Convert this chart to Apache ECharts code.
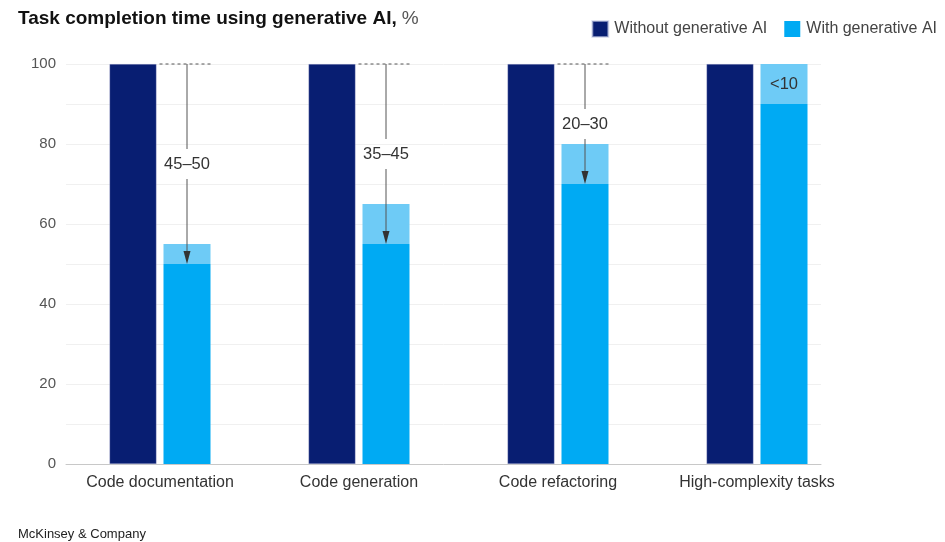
<!DOCTYPE html>
<html>
<head>
<meta charset="utf-8">
<title>Task completion time using generative AI</title>
<script src="https://cdn.jsdelivr.net/npm/echarts@6/dist/echarts.min.js"></script>
<style>
  html, body { margin: 0; padding: 0; background: #fff; }
  #chart { width: 945px; height: 542px; }
</style>
</head>
<body>
<div id="chart"></div>
<script>
// Task categories and completion times (% of baseline)
const categories = ['Code documentation', 'Code generation', 'Code refactoring', 'High-complexity tasks'];
const withoutAI = [100, 100, 100, 100];
const withAILow = [50, 55, 70, 90];     // lower bound of time with generative AI
const withAIHigh = [55, 65, 80, 100];   // upper bound of time with generative AI
const savingLabels = ['45–50', '35–45', '20–30', '<10'];
const yTicks = [0, 20, 40, 60, 80, 100];

const NAVY = '#081E72';
const BLUE = '#00AAF3';
const LIGHT = '#6ECBF6';
const FONT = '"Liberation Sans", Arial, sans-serif';

const BAR_W = 47;
const BAR_GAP = 7;
const OFFSET = (BAR_W + BAR_GAP) / 2;

const chart = echarts.init(document.getElementById('chart'));

// Range segment heights for the stacked "with AI" bar
const rangeVals = withAIHigh.map((h, i) => h - withAILow[i]);

// Annotation data: [category index, low, high, label index]
const annotData = categories.map((c, i) => [i, withAILow[i], withAIHigh[i], i]);

function renderAnnotation(params, api) {
  const idx = api.value(0);
  const low = api.value(1);
  const high = api.value(2);
  const label = savingLabels[api.value(3)];
  const top = api.coord([idx, 100]);
  const cx = top[0] + OFFSET;
  const children = [];
  const textStyle = {
    text: label,
    fontFamily: FONT,
    fontSize: 16.5,
    fill: '#333',
    align: 'center',
    verticalAlign: 'middle'
  };
  if (high >= 100) {
    // Reduction is small: put the label inside the range segment
    const mid = api.coord([idx, (low + high) / 2]);
    children.push({ type: 'text', x: cx, y: mid[1], style: textStyle });
    return { type: 'group', children };
  }
  const yTop = top[1];
  const yLow = api.coord([idx, low])[1];
  const yMid = api.coord([idx, (100 + low) / 2])[1];
  const darkRight = top[0] - OFFSET + BAR_W / 2 + 3;
  const lightRight = cx + BAR_W / 2;
  // dotted reference line at the 100 level
  children.push({
    type: 'line',
    shape: { x1: darkRight, y1: yTop, x2: lightRight, y2: yTop },
    style: { stroke: '#555', lineWidth: 1, lineDash: [3, 3] }
  });
  // arrow shaft, split around the label
  children.push({
    type: 'line',
    shape: { x1: cx, y1: yTop, x2: cx, y2: yMid - 15 },
    style: { stroke: '#555', lineWidth: 1 }
  });
  children.push({
    type: 'line',
    shape: { x1: cx, y1: yMid + 15, x2: cx, y2: yLow - 10 },
    style: { stroke: '#555', lineWidth: 1 }
  });
  // arrow head
  children.push({
    type: 'polygon',
    shape: { points: [[cx - 3.5, yLow - 13], [cx + 3.5, yLow - 13], [cx, yLow]] },
    style: { fill: '#333' }
  });
  children.push({ type: 'text', x: cx, y: yMid, style: textStyle });
  return { type: 'group', children };
}

const option = {
  animation: false,
  backgroundColor: '#fff',
  textStyle: { fontFamily: FONT },
  title: [
    {
      left: 13,
      top: 4,
      text: '{b|Task completion time using generative AI,} {n|%}',
      textStyle: {
        rich: {
          b: { fontFamily: FONT, fontSize: 19, fontWeight: 'bold', color: '#111' },
          n: { fontFamily: FONT, fontSize: 19, fontWeight: 'normal', color: '#555' }
        }
      }
    },
    {
      left: 13,
      top: 523,
      text: 'McKinsey & Company',
      textStyle: { fontFamily: FONT, fontSize: 13, fontWeight: 'normal', color: '#222' }
    }
  ],
  legend: {
    right: 3,
    top: 15,
    itemWidth: 16,
    itemHeight: 16,
    itemGap: 17,
    icon: 'rect',
    data: ['Without generative AI', 'With generative AI'],
    textStyle: { fontFamily: FONT, fontSize: 16, color: '#444', padding: [0, 0, 0, 1] }
  },
  grid: [
    // bars
    { left: 60.5, right: 88.5, top: 64, bottom: 78 },
    // value axis, gridlines and baseline
    { left: 66, right: 124, top: 64, bottom: 78 }
  ],
  xAxis: [
    {
      gridIndex: 0,
      type: 'category',
      data: categories,
      axisLine: { show: false },
      axisTick: { show: false },
      axisLabel: {
        interval: 0,
        hideOverlap: false,
        fontFamily: FONT,
        fontSize: 16,
        color: '#333',
        margin: 11
      }
    },
    {
      gridIndex: 1,
      type: 'value',
      min: 0,
      max: 1,
      axisLine: { show: true, lineStyle: { color: '#c8c8c8', width: 1 } },
      axisTick: { show: false },
      axisLabel: { show: false },
      splitLine: { show: false }
    }
  ],
  yAxis: [
    {
      gridIndex: 0,
      type: 'value',
      min: 0,
      max: 100,
      show: false
    },
    {
      gridIndex: 1,
      type: 'value',
      min: 0,
      max: 100,
      interval: 10,
      axisLine: { show: false },
      axisTick: { show: false },
      splitLine: { lineStyle: { color: '#f0f0f0', width: 1 } },
      axisLabel: {
        fontFamily: FONT,
        fontSize: 15,
        color: '#555',
        margin: 10,
        formatter: v => (yTicks.includes(v) ? String(v) : '')
      }
    }
  ],
  series: [
    {
      name: 'Without generative AI',
      type: 'bar',
      xAxisIndex: 0,
      yAxisIndex: 0,
      data: withoutAI,
      barWidth: BAR_W,
      barGap: (BAR_GAP / BAR_W * 100) + '%',
      itemStyle: { color: NAVY, borderColor: 'rgba(200,205,230,0.6)', borderWidth: 0.5 }
    },
    {
      name: 'With generative AI',
      type: 'bar',
      stack: 'with',
      xAxisIndex: 0,
      yAxisIndex: 0,
      data: withAILow,
      barWidth: BAR_W,
      itemStyle: { color: BLUE }
    },
    {
      name: 'Range',
      type: 'bar',
      stack: 'with',
      xAxisIndex: 0,
      yAxisIndex: 0,
      data: rangeVals,
      barWidth: BAR_W,
      itemStyle: { color: LIGHT }
    },
    {
      name: 'Savings',
      type: 'custom',
      xAxisIndex: 0,
      yAxisIndex: 0,
      data: annotData,
      renderItem: renderAnnotation,
      z: 10
    }
  ]
};

chart.setOption(option);
</script>
</body>
</html>
